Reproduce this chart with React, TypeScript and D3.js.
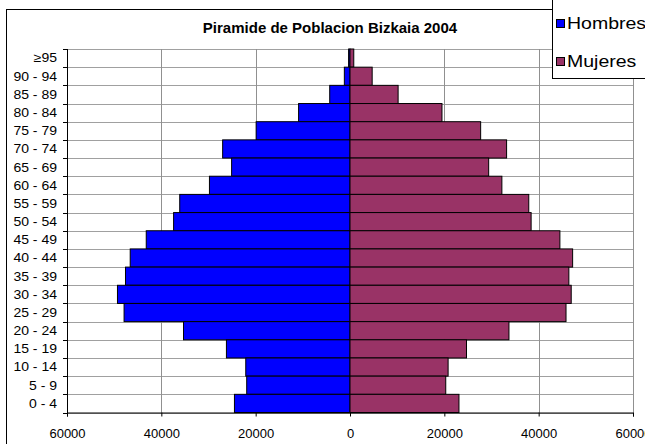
import React, { useEffect, useRef } from 'react';
import * as d3 from 'd3';

// age groups, top of the pyramid first
const ageGroups = ['≥95', '90 - 94', '85 - 89', '80 - 84', '75 - 79', '70 - 74', '65 - 69', '60 - 64', '55 - 59', '50 - 54', '45 - 49', '40 - 44', '35 - 39', '30 - 34', '25 - 29', '20 - 24', '15 - 19', '10 - 14', '5 - 9', '0 - 4'];
const hombres = [300, 1200, 4300, 10900, 19900, 27000, 25100, 29800, 36100, 37400, 43200, 46600, 47600, 49300, 47900, 35300, 26200, 22100, 21900, 24500];
const mujeres = [800, 4700, 10200, 19500, 27700, 33200, 29400, 32200, 37900, 38400, 44500, 47200, 46400, 46900, 45800, 33700, 24700, 20800, 20300, 23100];
const xTicks = [-60000, -40000, -20000, 0, 20000, 40000, 60000];

const App = () => {
  const svgRef = useRef<SVGSVGElement>(null);

  useEffect(() => {
    const svg = d3.select(svgRef.current);
    svg.selectAll('*').remove();

    const width = 645;
    const height = 444;
    const plotLeft = 67;
    const plotRight = 633;
    const plotTop = 49;
    const plotBottom = 412.5;

    const x = d3.scaleLinear([-60000, 60000], [plotLeft, plotRight]);
    const y = d3.scaleBand(ageGroups, [plotTop, plotBottom]).padding(0);

    // outer frame
    svg.append('rect')
      .attr('x', 6.5).attr('y', 9.5)
      .attr('width', width + 20).attr('height', height + 20)
      .attr('fill', '#fff').attr('stroke', '#000');

    svg.append('text')
      .attr('x', 330).attr('y', 33)
      .attr('text-anchor', 'middle')
      .attr('font-family', 'Liberation Sans, Arial, sans-serif')
      .attr('font-weight', 'bold')
      .attr('font-size', 15)
      .text('Piramide de Poblacion Bizkaia 2004');

    // gridlines
    const bounds = ageGroups.map(d => y(d) as number).concat([plotBottom]);
    svg.append('g')
      .selectAll('line')
      .data(bounds)
      .join('line')
      .attr('x1', plotLeft).attr('x2', plotRight)
      .attr('y1', d => Math.round(d) + 0.5).attr('y2', d => Math.round(d) + 0.5)
      .attr('stroke', '#a0a0a0');

    svg.append('g')
      .selectAll('line')
      .data(xTicks)
      .join('line')
      .attr('x1', d => Math.round(x(d)) + 0.5).attr('x2', d => Math.round(x(d)) + 0.5)
      .attr('y1', plotTop).attr('y2', plotBottom)
      .attr('stroke', '#909090');

    // bars
    svg.append('g')
      .selectAll('rect')
      .data(ageGroups)
      .join('rect')
      .attr('x', (d, i) => x(-hombres[i]))
      .attr('y', d => y(d) as number)
      .attr('width', (d, i) => x(0) - x(-hombres[i]))
      .attr('height', y.bandwidth())
      .attr('fill', '#0000ff')
      .attr('stroke', '#000');

    svg.append('g')
      .selectAll('rect')
      .data(ageGroups)
      .join('rect')
      .attr('x', x(0))
      .attr('y', d => y(d) as number)
      .attr('width', (d, i) => x(mujeres[i]) - x(0))
      .attr('height', y.bandwidth())
      .attr('fill', '#993366')
      .attr('stroke', '#000');

    // axes
    svg.append('g')
      .attr('transform', `translate(0,${plotBottom})`)
      .call(d3.axisBottom(x).tickValues(xTicks).tickSize(4).tickPadding(12).tickFormat(d => String(Math.abs(+d))))
      .call(g => g.selectAll('text').attr('font-size', 13).attr('font-family', 'Liberation Sans, Arial, sans-serif').attr('fill', '#000'));

    const ya = svg.append('g');
    ya.append('line')
      .attr('x1', plotLeft + 0.5).attr('x2', plotLeft + 0.5)
      .attr('y1', plotTop).attr('y2', plotBottom + 3)
      .attr('stroke', '#000');
    ya.selectAll('line.tick')
      .data(bounds)
      .join('line')
      .attr('class', 'tick')
      .attr('x1', plotLeft - 4).attr('x2', plotLeft)
      .attr('y1', d => Math.round(d) + 0.5).attr('y2', d => Math.round(d) + 0.5)
      .attr('stroke', '#000');
    ya.selectAll('text')
      .data(ageGroups)
      .join('text')
      .attr('transform', d => `translate(57,${(y(d) as number) + y.bandwidth() / 2}) scale(1.12,1)`)
      .attr('dy', '0.35em')
      .attr('text-anchor', 'end')
      .attr('font-family', 'Liberation Sans, Arial, sans-serif')
      .attr('font-size', 12.5)
      .text(d => d);

    // legend
    const lg = svg.append('g');
    lg.append('rect')
      .attr('x', 552.5).attr('y', -5)
      .attr('width', 120).attr('height', 83.5)
      .attr('fill', '#fff').attr('stroke', '#000');
    const items = [['Hombres', '#0000ff', 29], ['Mujeres', '#993366', 67]] as const;
    items.forEach(([label, color, base]) => {
      lg.append('rect')
        .attr('x', 556.5).attr('y', base - 9.5)
        .attr('width', 8).attr('height', 8)
        .attr('fill', color).attr('stroke', '#000');
      lg.append('text')
        .attr('transform', `translate(567,${base}) scale(1.22,1)`)
        .attr('font-family', 'Liberation Sans, Arial, sans-serif')
        .attr('font-size', 16)
        .text(label);
    });
  }, []);

  return (
    <svg
      ref={svgRef}
      width={645}
      height={444}
      viewBox="0 0 645 444"
      style={{ position: 'absolute', left: 0, top: 0, background: '#fff' }}
    />
  );
};

export default App;
